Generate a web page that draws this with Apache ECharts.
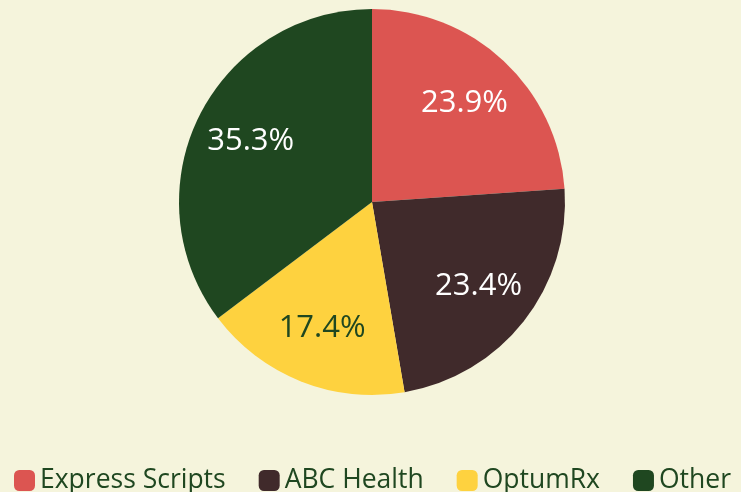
<!DOCTYPE html>
<html><head><meta charset="utf-8">
<style>html,body{margin:0;padding:0;background:#f5f4dc;}#c{width:741px;height:492px;}</style>
<script src="https://cdn.jsdelivr.net/npm/echarts@6/dist/echarts.min.js"></script>
</head><body><div id="c"></div>
<script>
const categories = ['Express Scripts', 'ABC Health', 'OptumRx', 'Other'];
const shares = [23.9, 23.4, 17.4, 35.3];
const colors = ['#dc5551', '#402a2b', '#fed23f', '#1f4720'];
const labelColors = ['#ffffff', '#ffffff', '#1f4720', '#ffffff'];

const chart = echarts.init(document.getElementById('c'));
const pieData = categories.map((n, i) => ({ name: n, value: shares[i], itemStyle: { color: colors[i] } }));
const labelData = categories.map((n, i) => ({ name: n, value: shares[i], label: { color: labelColors[i] } }));
chart.setOption({
  backgroundColor: '#f5f4dc',
  animation: false,
  legend: {
    data: categories,
    top: 467,
    left: 14,
    padding: 0,
    width: 727,
    itemWidth: 21,
    itemHeight: 21,
    itemGap: 33,
    icon: 'roundRect',
    textStyle: { fontFamily: 'Open Sans', fontSize: 26.5, color: '#1f4720' }
  },
  series: [{
    type: 'pie',
    center: [372, 202],
    radius: [0, 193],
    startAngle: 90,
    clockwise: true,
    label: { show: false },
    labelLine: { show: false },
    silent: true,
    data: pieData
  }, {
    type: 'pie',
    center: [372, 202],
    radius: [72, 193],
    startAngle: 90,
    clockwise: true,
    silent: true,
    itemStyle: { color: 'rgba(0,0,0,0)' },
    label: {
      show: true, position: 'inside',
      formatter: p => p.value.toFixed(1) + '%',
      fontFamily: 'Open Sans', fontSize: 31
    },
    labelLine: { show: false },
    data: labelData
  }]
});
</script></body></html>
